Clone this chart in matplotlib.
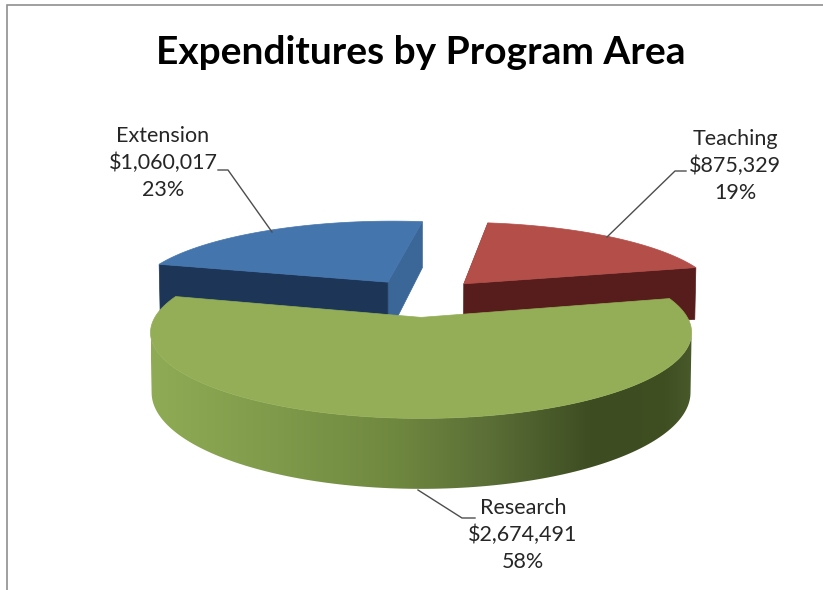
import numpy as np
import matplotlib
matplotlib.use("Agg")
import matplotlib.pyplot as plt
from matplotlib.patches import Polygon
from matplotlib.colors import LinearSegmentedColormap

categories = ["Teaching", "Research", "Extension"]
values = [875329, 2674491, 1060017]
title = "Expenditures by Program Area"

START = 8.0
EXPLODE = 0.25
K, A, B, YH, XV, H = 0.17, 257.5, 448.0, -150.5, 422.0, 55.5

fig = plt.figure(figsize=(8.23, 5.9), dpi=100, facecolor="white")
ax = fig.add_axes([0, 0, 1, 1])


def project(X, Y, z=0.0, xs=1.0):
    w = 1 + K * np.asarray(Y)
    sx = XV + xs * A * np.asarray(X) / w * (1 - 0.004 * z)
    sy = YH + B / w + H * z / w
    return sx, sy


total = sum(values)
edges = START + np.concatenate([[0], np.cumsum(values)]) / total * 360
slices = []
for i in range(len(values)):
    a0, a1 = edges[i], edges[i + 1]
    mid = np.radians((a0 + a1) / 2)
    cx, cy = EXPLODE * np.sin(mid), EXPLODE * np.cos(mid)
    slices.append((a0, a1, cx, cy))


def rim(s, n=240):
    a0, a1, cx, cy = s
    t = np.radians(np.linspace(a0, a1, n))
    return cx + np.sin(t), cy + np.cos(t)


def top_face(s, color, z, xs=1.0):
    X, Y = rim(s)
    X = np.r_[s[2], X]
    Y = np.r_[s[3], Y]
    sx, sy = project(X, Y, 0, xs)
    ax.add_patch(Polygon(np.c_[sx, sy], closed=True, fc=color, ec=color, lw=0.5, zorder=z))


def radial_face(s, ang, color, z):
    t = np.radians(ang)
    X = np.array([s[2], s[2] + np.sin(t)])
    Y = np.array([s[3], s[3] + np.cos(t)])
    x0, y0 = project(X, Y, 0)
    x1, y1 = project(X, Y, 1)
    pts = np.r_[np.c_[x0, y0], np.c_[x1, y1][::-1]]
    ax.add_patch(Polygon(pts, closed=True, fc=color, ec=color, lw=0.5, zorder=z))


teach, res, ext = slices

# Extension (blue)
radial_face(ext, ext[1], "#3a6798", 1)
radial_face(ext, ext[0], "#1d3557", 2)
top_face(ext, "#4575ad", 3)

# Teaching (red)
radial_face(teach, teach[1], "#561d1c", 4)
radial_face(teach, teach[0], "#8a3a37", 3.5)
top_face(teach, "#b34e49", 6)

# Research (green): outer wall between the tangent points of the top and bottom rims
GREEN_XS = 0.99
grad = LinearSegmentedColormap.from_list(
    "wall", [(0, "#8fab55"), (0.16, "#84a04e"), (0.45, "#6f883f"),
             (0.62, "#5b6f37"), (0.82, "#3d4c21"), (0.95, "#3f4f22"), (1, "#48592a")])
X, Y = rim(res, n=400)
x0, y0 = project(X, Y, 0, GREEN_XS)
x1, y1 = project(X, Y, 1, GREEN_XS)
r0, l0 = np.argmax(x0), np.argmin(x0)
r1, l1 = np.argmax(x1), np.argmin(x1)
upper = np.c_[x0[r0:l0 + 1], y0[r0:l0 + 1]]
lower = np.c_[x1[r1:l1 + 1], y1[r1:l1 + 1]][::-1]
outline = np.r_[upper, lower]
xmin, xmax = outline[:, 0].min(), outline[:, 0].max()
wall = Polygon(outline, closed=True, fc="none", ec="none", transform=ax.transData)
ax.add_patch(wall)
im = ax.imshow(np.linspace(0, 1, 512).reshape(1, -1), cmap=grad, aspect="auto",
               extent=[xmin, xmax, outline[:, 1].max(), outline[:, 1].min()],
               zorder=7, interpolation="bilinear")
im.set_clip_path(wall)
top_face(res, "#93ae56", 8, GREEN_XS)

ax.set_xlim(0, 823)
ax.set_ylim(590, 0)
ax.axis("off")

# Frame
ax.plot([7, 7, 823], [590, 5, 5], color="#8f8f8f", lw=1.2, zorder=0, solid_joinstyle="miter")

# Title
font = "Lato"
ax.text(421, 52, title, ha="center", va="center", fontsize=28, fontweight="bold",
        family=font, color="#000000")

# Labels
label_pos = {"Teaching": (735, 166), "Research": (523, 535), "Extension": (163, 163)}
leaders = {
    "Teaching": ([686, 675, 607], [171, 171, 237]),
    "Research": ([418, 462, 475], [490, 518, 518]),
    "Extension": ([218, 228, 272], [170, 170, 232]),
}
for name, v in zip(categories, values):
    pct = v / total * 100
    px, py = label_pos[name]
    ax.text(px, py, f"{name}\n${v:,}\n{pct:.0f}%", ha="center", va="center",
            fontsize=15.5, family=font, color="#262626", linespacing=1.42, zorder=10)
    lx, ly = leaders[name]
    ax.plot(lx, ly, color="#4d4d4d", lw=1.0, zorder=9)

fig.savefig("out.png", dpi=100, facecolor="white")
